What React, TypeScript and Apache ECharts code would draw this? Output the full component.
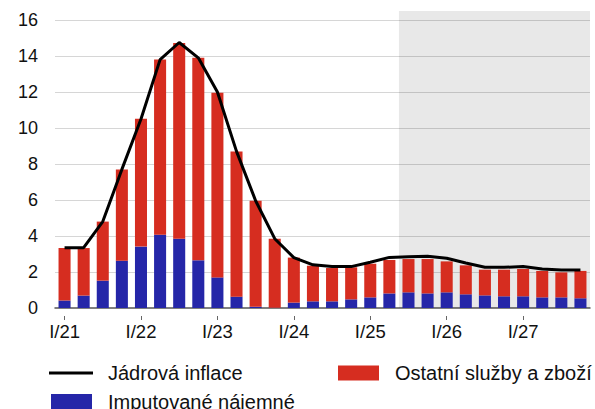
import React, { useEffect, useRef } from "react";
import * as echarts from "echarts";

const quarters = [
  "I/21", "II/21", "III/21", "IV/21",
  "I/22", "II/22", "III/22", "IV/22",
  "I/23", "II/23", "III/23", "IV/23",
  "I/24", "II/24", "III/24", "IV/24",
  "I/25", "II/25", "III/25", "IV/25",
  "I/26", "II/26", "III/26", "IV/26",
  "I/27", "II/27", "III/27", "IV/27",
];

const imputedRent = [
  0.41, 0.69, 1.52, 2.63, 3.41, 4.07, 3.85, 2.65, 1.7, 0.63, 0.07, 0.02,
  0.3, 0.37, 0.37, 0.48, 0.59, 0.81, 0.87, 0.81, 0.87, 0.76, 0.7, 0.65,
  0.65, 0.59, 0.59, 0.54,
];

const otherGoodsServices = [
  2.92, 2.64, 3.28, 5.06, 7.11, 9.73, 10.87, 11.25, 10.26, 8.06, 5.89, 3.83,
  2.5, 1.98, 1.85, 1.78, 1.87, 1.86, 1.85, 1.91, 1.72, 1.61, 1.43, 1.48,
  1.52, 1.47, 1.39, 1.52,
];

const coreInflation = [
  3.35, 3.35, 4.8, 7.7, 10.5, 13.8, 14.75, 13.9, 12.0, 8.7, 5.96, 3.85,
  2.8, 2.4, 2.3, 2.3, 2.54, 2.81, 2.85, 2.87, 2.76, 2.5, 2.26, 2.26,
  2.3, 2.17, 2.11, 2.11,
];

const forecastStartQuarter = "III/25";

const FONT = 'Arial, "Liberation Sans", sans-serif';

export default function App() {
  const ref = useRef<HTMLDivElement>(null);

  useEffect(() => {
    if (!ref.current) return;
    const chart = echarts.init(ref.current, null, { renderer: "svg" });
    const forecastStart = quarters.indexOf(forecastStartQuarter);

    const legendText = (padLeft: number) => ({
      fontSize: 20,
      color: "#111",
      fontFamily: FONT,
      lineHeight: 20,
      padding: [0, 0, 0, padLeft],
    });

    chart.setOption({
      animation: false,
      backgroundColor: "#ffffff",
      textStyle: { fontFamily: FONT },
      grid: { left: 55, right: 5, top: 11, bottom: 101, containLabel: false },
      legend: [
        {
          left: 49,
          top: 363,
          padding: 0,
          itemWidth: 44,
          itemHeight: 3,
          data: [{ name: "Jádrová inflace", icon: "rect" }],
          textStyle: legendText(10),
        },
        {
          left: 338,
          top: 363,
          padding: 0,
          itemWidth: 41,
          itemHeight: 15,
          data: [{ name: "Ostatní služby a zboží", icon: "rect" }],
          textStyle: legendText(11),
        },
        {
          left: 51,
          top: 391.5,
          padding: 0,
          itemWidth: 41,
          itemHeight: 15,
          data: [{ name: "Imputované nájemné", icon: "rect" }],
          textStyle: legendText(11),
        },
      ],
      xAxis: [
        {
          type: "category",
          data: quarters,
          boundaryGap: true,
          axisLine: { show: true, lineStyle: { color: "#555", width: 1.5 } },
          axisTick: { show: false },
          axisLabel: {
            interval: 3,
            margin: 14,
            fontSize: 18.5,
            color: "#111",
            fontFamily: FONT,
          },
          splitLine: { show: false },
        },
        {
          type: "category",
          data: quarters,
          position: "bottom",
          offset: 8,
          boundaryGap: true,
          axisLine: { show: false },
          axisTick: {
            show: true,
            interval: 3,
            alignWithLabel: true,
            length: 4,
            lineStyle: { color: "#666", width: 1 },
          },
          axisLabel: { show: false },
          splitLine: { show: false },
        },
        {
          type: "value",
          min: 0,
          max: quarters.length,
          show: false,
        },
      ],
      yAxis: {
        type: "value",
        min: 0,
        max: 16.5,
        interval: 2,
        axisLine: { show: false },
        axisTick: { show: false },
        axisLabel: {
          showMaxLabel: false,
          margin: 17,
          fontSize: 18,
          color: "#111",
          fontFamily: FONT,
        },
        splitLine: {
          show: true,
          showMinLine: false,
          showMaxLine: false,
          lineStyle: { color: "#d6d6d6", width: 1.2 },
        },
      },
      series: [
        {
          name: "forecast",
          type: "line",
          xAxisIndex: 2,
          data: [],
          silent: true,
          markArea: {
            silent: true,
            itemStyle: { color: "rgba(0,0,0,0.09)" },
            data: [[{ xAxis: forecastStart }, { xAxis: quarters.length }]],
          },
          z: 1,
        },
        {
          name: "Imputované nájemné",
          type: "bar",
          stack: "total",
          barWidth: "63%",
          data: imputedRent,
          itemStyle: { color: "#2526a8" },
          z: 3,
        },
        {
          name: "Ostatní služby a zboží",
          type: "bar",
          stack: "total",
          barWidth: "63%",
          data: otherGoodsServices,
          itemStyle: { color: "#d62d20" },
          z: 3,
        },
        {
          name: "Jádrová inflace",
          type: "line",
          data: coreInflation,
          symbol: "none",
          showSymbol: false,
          lineStyle: { color: "#000", width: 3 },
          itemStyle: { color: "#000" },
          z: 5,
        },
      ],
    });

    return () => chart.dispose();
  }, []);

  return (
    <div
      ref={ref}
      style={{ position: "fixed", left: 0, top: 0, width: 595, height: 409 }}
    />
  );
}
